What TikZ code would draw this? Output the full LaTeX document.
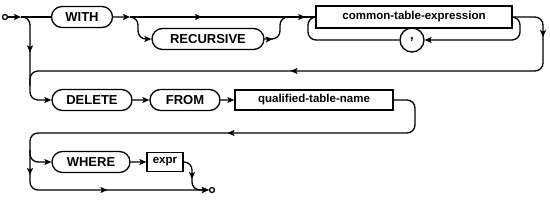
\documentclass[tikz,border=0pt]{standalone}
\usepackage{fontspec}
\setmainfont{Liberation Sans}
\usetikzlibrary{arrows.meta,positioning,shapes.misc,decorations.markings}

\begin{document}
\begin{tikzpicture}[
  x=1pt,y=-1pt,
  line width=1.3pt,
  kw/.style={draw,rounded rectangle,inner sep=0pt,minimum height=21pt,font=\fontsize{13}{15}\selectfont\bfseries},
  nt/.style={draw,rectangle,inner sep=0pt,minimum height=21pt,font=\fontsize{11.5}{13}\selectfont\bfseries},
  term/.style={draw,circle,inner sep=0pt,minimum size=5pt},
  arr/.style={-{Stealth[length=7pt,width=6pt,inset=1.5pt]}},
  rr/.style={rounded corners=8pt},
  fwd/.style={postaction={decorate},decoration={markings,
    mark=at position #1 with {\arrow{Stealth[length=7pt,width=6pt,inset=1.5pt]}}}},
  fwdd/.style 2 args={postaction={decorate},decoration={markings,
    mark=at position #1 with {\arrow{Stealth[length=7pt,width=6pt,inset=1.5pt]}},
    mark=at position #2 with {\arrow{Stealth[length=7pt,width=6pt,inset=1.5pt]}}}},
]
  \useasboundingbox (0,0) rectangle (550,201);

  % row 1
  \node[term] (start) at (5,17) {};
  \node[kw,minimum width=61pt] (with) at (82,17) {WITH};
  \node[kw,minimum width=112pt] (rec) at (208,39) {RECURSIVE};
  \node[nt,minimum width=196pt,minimum height=22pt] (cte) at (414,17) {common-table-expression};
  \node[draw,circle,minimum size=24pt,inner sep=0pt,font=\fontsize{13}{15}\selectfont\bfseries] (comma) at (412,40) {,};
  % row 2
  \node[kw,minimum width=80pt] (delete) at (92,100) {DELETE};
  \node[kw,minimum width=70pt] (from) at (185,100) {FROM};
  \node[nt,minimum width=158pt,minimum height=20pt] (qtn) at (314,100) {qualified-table-name};
  % row 3
  \node[kw,minimum width=78pt] (where) at (91,162) {WHERE};
  \node[nt,minimum width=36pt,minimum height=19pt] (expr) at (165,162) {expr};
  \node[term] (finish) at (212,190) {};

  \coordinate (j0) at (21,17);
  \coordinate (j1) at (130,17);
  \coordinate (j2) at (290,17);
  \coordinate (j3) at (30,150);

  \draw[arr] (start) -- (j0);
  \draw (j0) -- (with);
  \draw[arr] (with) -- (j1);
  \draw[fwd=0.45] (j1) -- (j2);
  \draw[rr,arr] (j1) -- (138,17) -- (138,39) -- (rec);
  \draw[rr,fwd=8pt] (rec) -- (280,39) -- (280,17) -- (j2);
  \draw[fwd=0.6] (j2) -- (cte);
  \draw[rr,arr] (cte.east) -- (520,17) -- (520,40) -- (comma);
  \draw[rr] (comma) -- (308,40) -- (308,17) -- (cte.west);
  \draw[rr,fwdd={47pt}{330pt}] (cte.east) -- (543,17) -- (543,71) -- (30,71) -- (30,86);
  \draw[rr,arr,fwd=41pt] (j0) -- (30,17) -- (30,100) -- (delete);

  \draw[arr] (delete) -- (from);
  \draw[arr] (from) -- (qtn);
  \draw[rr,fwd=235pt] (qtn) -- (415,100) -- (415,133) -- (30,133) -- (j3);

  \draw[rr,arr] (j3) -- (30,162) -- (where);
  \draw[rr,arr,fwdd={25pt}{114pt}] (j3) -- (30,190) -- (finish);
  \draw[arr] (where) -- (expr);
  \draw[rr,arr,fwd=22pt] (expr) -- (192,162) -- (192,190) -- (finish);
\end{tikzpicture}
\end{document}
